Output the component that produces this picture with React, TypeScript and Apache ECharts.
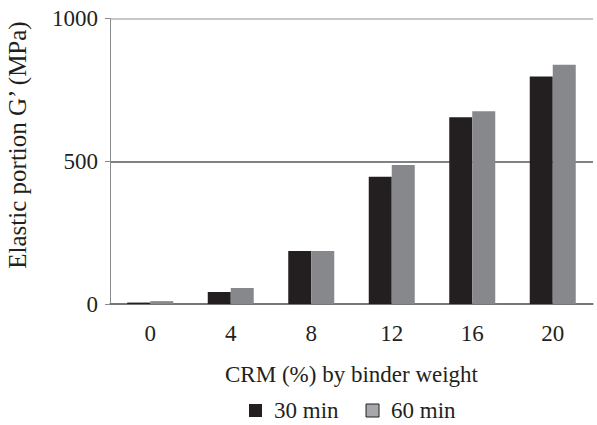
import React, { useEffect, useRef } from "react";
import * as echarts from "echarts";

const categories = ["0", "4", "8", "12", "16", "20"];
const min30 = [5, 42, 186, 446, 655, 797];
const min60 = [10, 56, 186, 487, 676, 839];
const seriesNames = ["30 min", "60 min"];
const yTicks = [0, 500, 1000];

const FONT = "'Liberation Serif', 'Times New Roman', serif";
const TEXT = "#231f20";

export default function App() {
  const ref = useRef<HTMLDivElement>(null);
  useEffect(() => {
    const chart = echarts.init(ref.current!, null, { renderer: "svg" });
    chart.setOption({
      animation: false,
      backgroundColor: "#ffffff",
      grid: { left: 110, right: 4, top: 18.7, bottom: 121, containLabel: false },
      legend: {
        left: 249,
        top: 399,
        padding: 0,
        icon: "rect",
        itemWidth: 13,
        itemHeight: 13,
        itemGap: 27,
        textStyle: { fontFamily: FONT, fontSize: 23, color: TEXT, padding: [0, 0, 0, 7] },
        data: [
          { name: seriesNames[0], itemStyle: { color: "#231f20" } },
          { name: seriesNames[1], itemStyle: { color: "#a7a8ab", borderColor: "#231f20", borderWidth: 1 } },
        ],
      },
      xAxis: {
        type: "category",
        data: categories,
        name: "CRM (%) by binder weight",
        nameLocation: "middle",
        nameGap: 59,
        nameTextStyle: { fontFamily: FONT, fontSize: 23, color: TEXT },
        axisTick: { show: false },
        axisLine: { lineStyle: { color: "#6d6e71", width: 1.5 } },
        axisLabel: { fontFamily: FONT, fontSize: 23, color: TEXT, margin: 18 },
      },
      yAxis: {
        type: "value",
        min: yTicks[0],
        max: yTicks[yTicks.length - 1],
        interval: 500,
        axisLine: { show: true, lineStyle: { color: "#8a8b8e", width: 1 } },
        axisTick: { show: true, length: 5, lineStyle: { color: "#8a8b8e" } },
        axisLabel: {
          fontFamily: FONT,
          fontSize: 23,
          color: TEXT,
          margin: 12,
          formatter: (v: number) => String(v),
        },
        splitLine: {
          show: true,
          lineStyle: { color: ["#6d6e71", "#58595b", "#b5b5b8"], width: 1.5 },
        },
      },
      graphic: [
        {
          type: "text",
          x: 17,
          y: 145,
          rotation: Math.PI / 2,
          style: {
            text: "Elastic portion G\u2019 (MPa)",
            fontFamily: FONT,
            fontSize: 25,
            fill: TEXT,
            align: "center",
            verticalAlign: "middle",
          },
        },
      ],
      series: [
        {
          name: seriesNames[0],
          type: "bar",
          data: min30,
          barWidth: 23,
          barGap: "0%",
          itemStyle: { color: "#231f20" },
        },
        {
          name: seriesNames[1],
          type: "bar",
          data: min60,
          barWidth: 23,
          barGap: "0%",
          itemStyle: { color: "#87888c" },
        },
      ],
    });
    return () => chart.dispose();
  }, []);
  return <div ref={ref} style={{ width: 597, height: 425, position: "absolute", left: 0, top: 0 }} />;
}
